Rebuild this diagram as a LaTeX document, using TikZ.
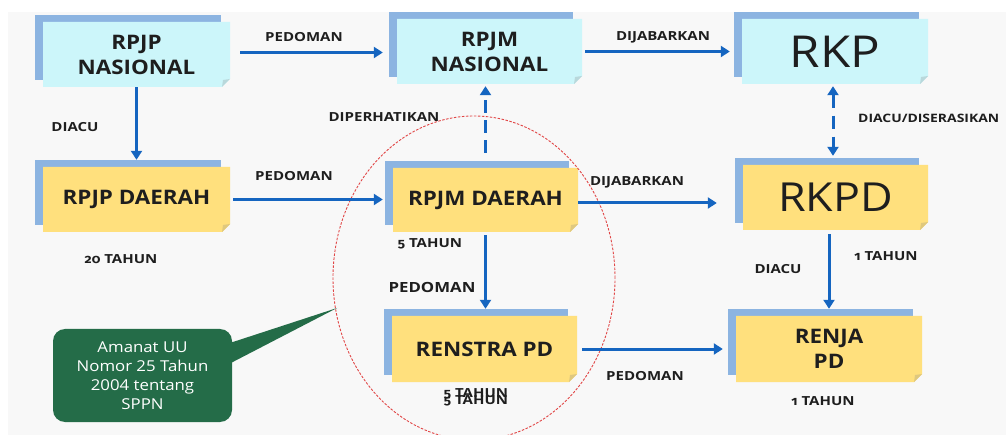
\documentclass[tikz,border=0pt]{standalone}
\usepackage{fontspec}
\setmainfont{Open Sans}[FakeStretch=1.12]
\newfontfamily\lblfont{Open Sans}[FakeStretch=1.2]
\newfontfamily\osfdig{Fira Sans}[Numbers=OldStyle, FakeStretch=1.1]
\usetikzlibrary{arrows.meta}
\definecolor{bgc}{RGB}{248,248,248}
\definecolor{cyanbox}{RGB}{204,246,250}
\definecolor{yelbox}{RGB}{255,224,125}
\definecolor{backblue}{RGB}{140,180,225}
\definecolor{arrblue}{RGB}{21,101,192}
\definecolor{txt}{RGB}{30,30,30}
\definecolor{cg}{RGB}{36,108,72}
\definecolor{ellred}{RGB}{225,70,70}
\tikzset{
  lbl/.style={font=\lblfont\bfseries\fontsize{12.5}{14}\selectfont, text=txt, inner sep=0pt},
  boxtxt/.style={font=\bfseries\fontsize{20}{25}\selectfont, align=center, text=txt, inner sep=0pt},
  arr/.style={draw=arrblue, line width=3pt, -{Triangle[length=9pt,width=11pt]}},
  darr/.style={arr, dash pattern=on 13pt off 7pt},
  ddarr/.style={draw=arrblue, line width=3pt, dash pattern=on 13pt off 8pt, {Triangle[length=9pt,width=11pt]}-{Triangle[length=9pt,width=11pt]}},
  calltxt/.style={fill=cg, rounded corners=12pt, text=white, align=center,
     font=\fontsize{15}{19}\selectfont, minimum width=179pt, minimum height=93pt, inner sep=0pt},
}
\newcommand\od[1]{{\osfdig\bfseries #1}}
% name, x1, y1, x2, y2, fill, text
\newcommand\docbox[7]{%
  \fill[backblue] ({#2-8},{#3-7}) rectangle ({#4-9},{#5-7});
  \fill[#6] (#2,#3) -- (#4,#3) -- (#4,{#5-8}) -- ({#4-8},#5) -- (#2,#5) -- cycle;
  \fill[#6!75!gray] (#4,{#5-8}) -- ({#4-8},#5) -- ({#4-7},{#5-7}) -- cycle;
  \node[boxtxt, minimum width={#4pt-#2pt}, minimum height={#5pt-#3pt}] (#1) at ({(#2+#4)/2},{(#3+#5)/2}) {#7};
}
\begin{document}
\begin{tikzpicture}[x=1pt,y=-1pt]
\useasboundingbox (0,0) rectangle (1006,435);
\fill[white] (0,0) rectangle (1006,435);
\fill[bgc] (8,12) rectangle (1006,435);

\docbox{rpjpn}{43}{22}{230}{87}{cyanbox}{RPJP\\NASIONAL}
\docbox{rpjmn}{397}{19}{582}{84}{cyanbox}{RPJM\\NASIONAL}
\docbox{rkp}{742}{19}{928}{84}{cyanbox}{\mdseries\fontsize{44}{48}\selectfont RKP}
\docbox{rpjpd}{43}{167}{230}{232}{yelbox}{RPJP DAERAH}
\docbox{rpjmd}{393}{168}{578}{232}{yelbox}{RPJM DAERAH}
\docbox{rkpd}{743}{165}{928}{230}{yelbox}{\mdseries\fontsize{40}{44}\selectfont RKPD}
\docbox{renstra}{392}{316}{577}{382}{yelbox}{RENSTRA PD}
\docbox{renja}{736}{316}{922}{382}{yelbox}{RENJA\\PD}

% ellipse
\draw[ellred, line width=0.9pt, dash pattern=on 2.5pt off 1.5pt] (474,278) ellipse [x radius=141pt, y radius=162pt];

% arrows
\draw[arr] ([xshift=10pt,yshift=2pt]rpjpn.east) -- ([xshift=-14pt,yshift=2pt]rpjpn.east -| rpjmn.west);
\draw[arr] ([xshift=3pt]rpjmn.east) -- ([xshift=-12pt]rkp.west);
\draw[arr] (rpjpn.south) -- ([yshift=7pt]rpjpd.north);
\draw[arr] ([xshift=3pt]rpjpd.east) -- ([xshift=-10pt]rpjpd.east -| rpjmd.west);
\draw[darr] ([yshift=15pt]rpjmd.north) -- ([yshift=-2pt]rpjmd.north |- rpjmn.south);
\draw[arr] ([yshift=-3pt]rpjmd.east) -- ([xshift=-26pt,yshift=-3pt]rpjmd.east -| rkpd.west);
\draw[ddarr] ([xshift=-2pt,yshift=-2pt]rkp.south) -- ([xshift=-2pt,yshift=9pt]rkp.south |- rkpd.north);
\draw[arr] ([yshift=-3pt]rpjmd.south) -- ([yshift=7pt]rpjmd.south |- renstra.north);
\draw[arr] ([yshift=-4pt]renja.north |- rkpd.south) -- ([yshift=7pt]renja.north);
\draw[arr] ([xshift=5pt]renstra.east) -- ([xshift=-13pt]renja.west);

% labels
\node[lbl] (l1) at (304,37) {PEDOMAN};
\node[lbl] (l2) at (663,37) {DIJABARKAN};
\node[lbl] (l3) at (75,127) {DIACU};
\node[lbl] (l4) at (294,176) {PEDOMAN};
\node[lbl] (l5) at (384,117) {DIPERHATIKAN};
\node[lbl] (l6) at (637,182) {DIJABARKAN};
\node[lbl, font=\lblfont\bfseries\fontsize{11.6}{14}\selectfont, anchor=west] (l7) at (858,118) {DIACU/DISERASIKAN};
\node[lbl] (l8) at (430,244) {\od{5} TAHUN};
\node[lbl, font=\lblfont\bfseries\fontsize{14}{16}\selectfont] (l9) at (432,287) {PEDOMAN};
\node[lbl] (l10) at (121,259) {\od{20} TAHUN};
\node[lbl] (l11) at (476,394) {\od{5} TAHUN};
\node[lbl] (l12) at (476,401) {\od{5} TAHUN};
\node[lbl] (l13) at (778,269) {DIACU};
\node[lbl] (l14) at (886,256) {\od{1} TAHUN};
\node[lbl] (l15) at (645,376) {PEDOMAN};
\node[lbl] (l16) at (823,401) {\od{1} TAHUN};

% callout
\node[calltxt] (note) at (142.5,375.5) {Amanat UU\\Nomor 25 Tahun\\2004 tentang\\SPPN};
\coordinate (tip) at (337,308);
\fill[cg] ([xshift=-10pt,yshift=30pt]note.east) -- (tip) -- ([xshift=-10pt,yshift=8pt]note.east) -- cycle;
\end{tikzpicture}
\end{document}
